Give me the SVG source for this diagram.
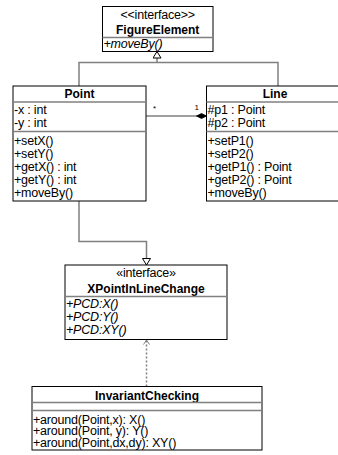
<svg xmlns="http://www.w3.org/2000/svg" width="338" height="455" viewBox="0 0 338 455">
<defs>
<style>
text{font-family:"Liberation Sans",Arial,sans-serif;font-size:12.5px;fill:#000;letter-spacing:-0.2px}
.t{font-size:12px;font-weight:bold;text-anchor:middle;letter-spacing:0}
.s{text-anchor:middle}
.i{font-style:italic}
.box{fill:#fff;stroke:#000;stroke-width:1}
.sep{stroke:#808080;stroke-width:1.5}
.c{fill:none;stroke:#808080;stroke-width:1.5}
.m{font-size:8px}
</style>
<marker id="gen" markerWidth="8" markerHeight="10" refX="7" refY="4.5" orient="auto" markerUnits="userSpaceOnUse">
<path d="M0.5,0.5 L7,4.5 L0.5,8.5 Z" fill="#fff" stroke="#000" stroke-width="1"/>
</marker>
<marker id="dep" markerWidth="6" markerHeight="8" refX="5" refY="3.5" orient="auto" markerUnits="userSpaceOnUse">
<path d="M0.5,0.5 L5,3.5 L0.5,6.5" fill="none" stroke="#808080" stroke-width="1"/>
</marker>
<marker id="dia" markerWidth="12" markerHeight="8" refX="11" refY="4" orient="auto" markerUnits="userSpaceOnUse">
<path d="M1,4 L6,1.5 L11,4 L6,6.5 Z" fill="#000" stroke="#000" stroke-width="0.8"/>
</marker>
</defs>
<g id="connectors">
<path class="c" d="M79,86 V62.5 H278 V86"/>
<path class="c" d="M157,62.5 V51.5" marker-end="url(#gen)"/>
<path class="c" d="M146,116 H206.5" marker-end="url(#dia)"/>
<text class="m" x="153" y="111">*</text>
<text class="m" x="194.5" y="110">1</text>
<path class="c" d="M79,201 V241.5 H146.5 V265" marker-end="url(#gen)"/>
<path class="c" d="M146.5,386.5 V340" stroke-dasharray="2,2" stroke-width="1" marker-end="url(#dep)"/>
</g>
<g id="FigureElement">
<rect class="box" x="102.5" y="6.5" width="110.5" height="45"/>
<text class="s" x="157.7" y="19">&lt;&lt;interface&gt;&gt;</text>
<text class="t" x="157.7" y="33.5">FigureElement</text>
<line class="sep" x1="102.5" y1="37.5" x2="213" y2="37.5"/>
<text class="i" x="103.5" y="48">+moveBy()</text>
</g>
<g id="Point">
<rect class="box" x="13" y="86" width="133" height="115"/>
<text class="t" x="79.5" y="97.5">Point</text>
<line class="sep" x1="13" y1="102" x2="146" y2="102"/>
<text x="14" y="114">-x : int</text>
<text x="14" y="127">-y : int</text>
<line class="sep" x1="13" y1="131.5" x2="146" y2="131.5"/>
<text x="14" y="145">+setX()</text>
<text x="14" y="158">+setY()</text>
<text x="14" y="171">+getX() : int</text>
<text x="14" y="184">+getY() : int</text>
<text x="14" y="197">+moveBy()</text>
</g>
<g id="Line">
<rect class="box" x="206.5" y="86" width="140" height="115"/>
<text class="t" x="275" y="97.5">Line</text>
<line class="sep" x1="206.5" y1="102" x2="346.5" y2="102"/>
<text x="207.5" y="114">#p1 : Point</text>
<text x="207.5" y="127">#p2 : Point</text>
<line class="sep" x1="206.5" y1="131.5" x2="346.5" y2="131.5"/>
<text x="207.5" y="145">+setP1()</text>
<text x="207.5" y="158">+setP2()</text>
<text x="207.5" y="171">+getP1() : Point</text>
<text x="207.5" y="184">+getP2() : Point</text>
<text x="207.5" y="197">+moveBy()</text>
</g>
<g id="XPointInLineChange">
<rect class="box" x="65" y="265" width="162" height="74.5"/>
<text class="s" x="146" y="276.5">«interface»</text>
<text class="t" x="146" y="292.5">XPointInLineChange</text>
<line class="sep" x1="65" y1="296.5" x2="227" y2="296.5"/>
<text class="i" x="66" y="308">+PCD:X()</text>
<text class="i" x="66" y="321">+PCD:Y()</text>
<text class="i" x="66" y="334">+PCD:XY()</text>
</g>
<g id="InvariantChecking">
<rect class="box" x="32" y="386.5" width="230" height="63.5"/>
<text class="t" x="147" y="399.5">InvariantChecking</text>
<line class="sep" x1="32" y1="402.5" x2="262" y2="402.5"/>
<line class="sep" x1="32" y1="410.5" x2="262" y2="410.5"/>
<text x="33" y="423.5">+around(Point,x): X()</text>
<text x="33" y="435">+around(Point, y): Y()</text>
<text x="33" y="446.5">+around(Point,dx,dy): XY()</text>
</g>
</svg>
